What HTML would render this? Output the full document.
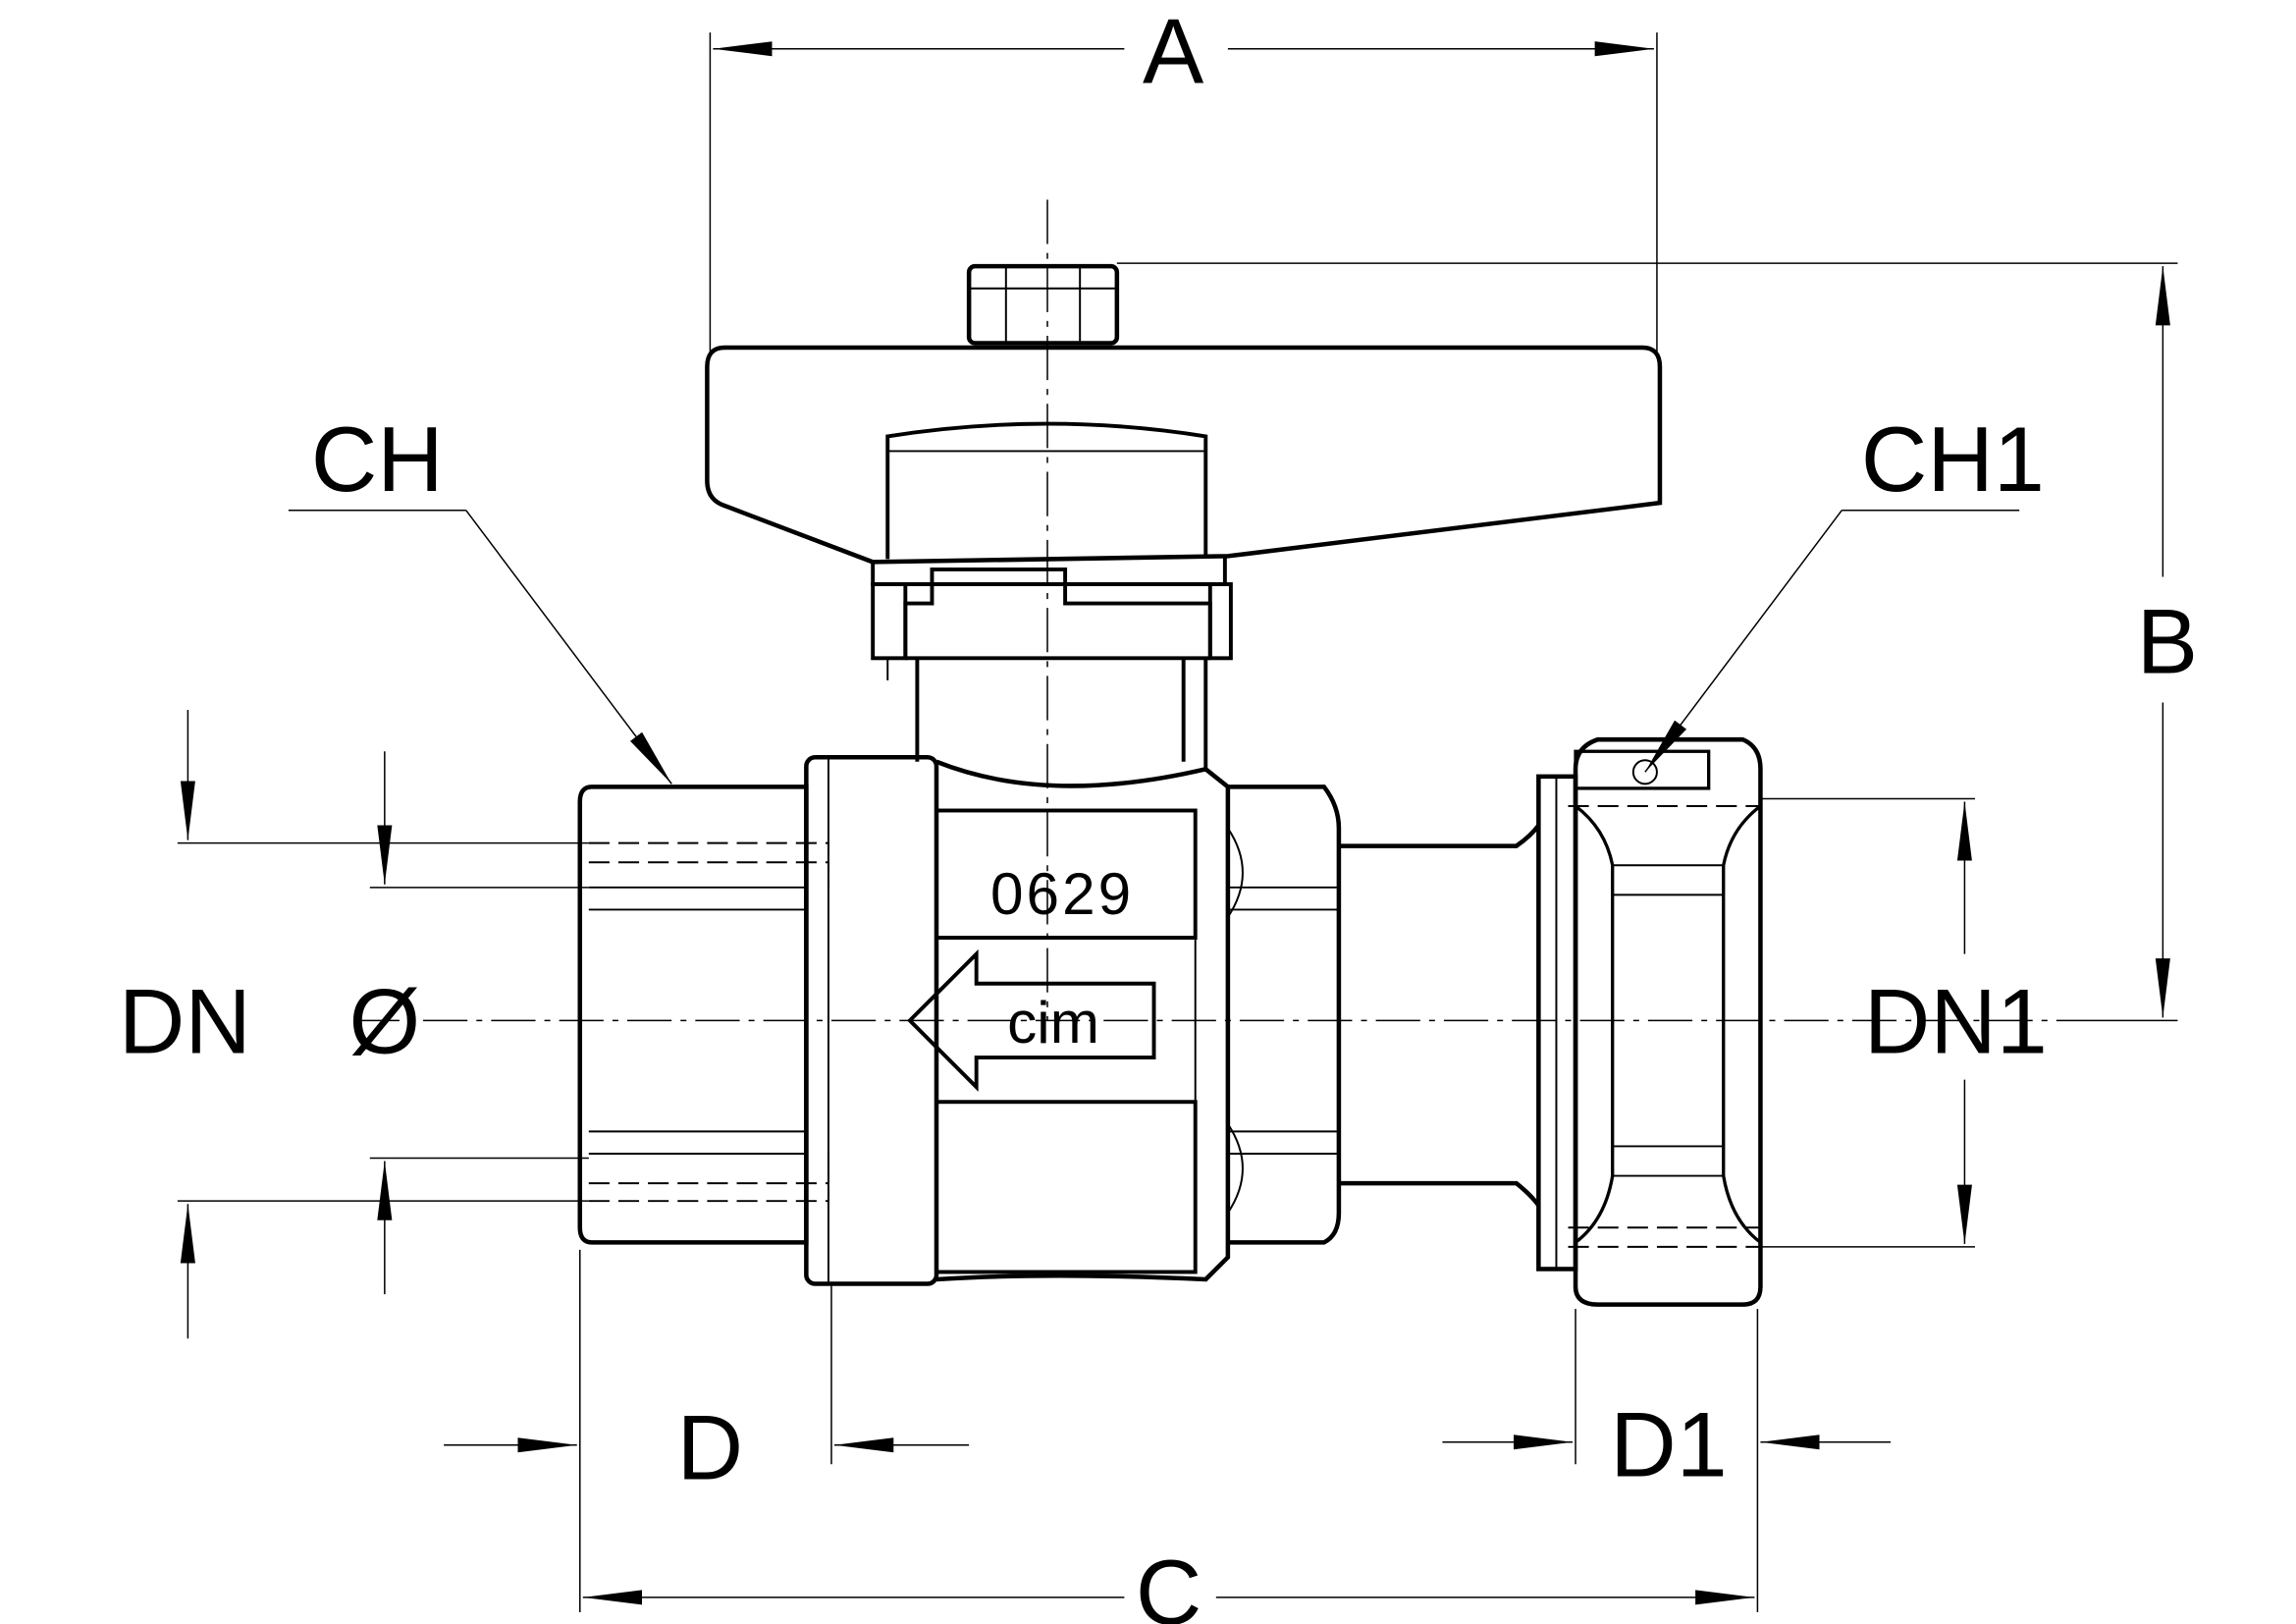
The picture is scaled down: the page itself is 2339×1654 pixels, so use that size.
<!DOCTYPE html>
<html><head><meta charset="utf-8"><style>
html,body{margin:0;padding:0;background:#fff;}
svg{display:block;}
text{font-family:"Liberation Sans",sans-serif;fill:#000;}
</style></head><body>
<svg width="2339" height="1654" viewBox="0 0 1552 1098" preserveAspectRatio="none" xmlns="http://www.w3.org/2000/svg">
<defs>
<marker id="ar" markerWidth="40" markerHeight="12" refX="40" refY="6" orient="auto" markerUnits="userSpaceOnUse">
<path d="M0,1 L40,6 L0,11 Z" fill="#000"/></marker>
</defs>
<g fill="none" stroke="#000" stroke-width="1.3">
<line x1="240" y1="690" x2="1410" y2="690" stroke-dasharray="30,6,4,6" stroke-width="1"/>
<line x1="708" y1="135" x2="708" y2="690" stroke-dasharray="30,6,4,6" stroke-width="1"/>

<line x1="480" y1="22" x2="480" y2="240" stroke-width="1"/>
<line x1="1120" y1="22" x2="1120" y2="240" stroke-width="1"/>
<line x1="760" y1="33" x2="482" y2="33" marker-end="url(#ar)" stroke-width="1"/>
<line x1="830" y1="33" x2="1118" y2="33" marker-end="url(#ar)" stroke-width="1"/>
<line x1="755" y1="178" x2="1472" y2="178" stroke-width="1"/>
<line x1="1410" y1="690" x2="1472" y2="690" stroke-width="1"/>
<line x1="1462" y1="390" x2="1462" y2="180" marker-end="url(#ar)" stroke-width="1"/>
<line x1="1462" y1="475" x2="1462" y2="688" marker-end="url(#ar)" stroke-width="1"/>

<rect x="655" y="180" width="100" height="52" rx="4" stroke-width="3"/>
<line x1="655" y1="195" x2="755" y2="195"/>
<line x1="680" y1="180" x2="680" y2="232"/><line x1="730" y1="180" x2="730" y2="232"/>
<path d="M490,235 L1110,235 Q1122,235 1122,248 L1122,340 L830,376 L590,380 L490,342 Q478,338 478,325 L478,248 Q478,235 490,235 Z" stroke-width="3"/>
<path d="M600,378 L600,295 Q708,278 815,295 L815,376" stroke-width="2.6"/>
<line x1="600" y1="305" x2="815" y2="305"/>
<path d="M590,380 L590,395 L828,395 L828,376" stroke-width="2.6"/>
<rect x="590" y="395" width="22" height="50" stroke-width="2.6"/>
<rect x="818" y="395" width="14" height="50" stroke-width="2.6"/>
<path d="M612,445 L612,408 L630,408 L630,385 L720,385 L720,408 L818,408 L818,445" stroke-width="2.6"/>
<line x1="612" y1="445" x2="818" y2="445" stroke-width="2.6"/>
<path d="M620,445 L620,515 M800,445 L800,515 M815,445 L815,520" stroke-width="2.6"/>
<line x1="600" y1="445" x2="600" y2="460"/>

<path d="M400,532 L545,532 L545,840 L400,840 Q392,840 392,830 L392,542 Q392,532 400,532 Z" stroke-width="3"/>
<line x1="398" y1="600" x2="545" y2="600"/>
<line x1="398" y1="615" x2="545" y2="615"/>
<line x1="398" y1="765" x2="545" y2="765"/>
<line x1="398" y1="780" x2="545" y2="780"/>
<line x1="398" y1="570" x2="560" y2="570" stroke-dasharray="14,6"/>
<line x1="398" y1="583" x2="560" y2="583" stroke-dasharray="14,6"/>
<line x1="398" y1="800" x2="560" y2="800" stroke-dasharray="14,6"/>
<line x1="398" y1="812" x2="560" y2="812" stroke-dasharray="14,6"/>
<line x1="560" y1="570" x2="560" y2="600" stroke-dasharray="8,4"/>
<line x1="560" y1="780" x2="560" y2="812" stroke-dasharray="8,4"/>
<rect x="545" y="512" width="88" height="356" rx="6" stroke-width="3"/>
<line x1="560" y1="512" x2="560" y2="868"/>
<path d="M633,515 Q708,545 815,520 L830,532 L830,850 L815,865 Q708,860 633,865" stroke-width="3"/>
<rect x="633" y="548" width="175" height="86" stroke-width="2.6"/>
<rect x="633" y="745" width="175" height="115" stroke-width="2.6"/>
<path d="M633,634 L633,745 M808,634 L808,745"/>
<text x="718" y="618" font-size="40" text-anchor="middle" stroke="none" letter-spacing="2">0629</text>
<path d="M615,690 L660,645 L660,665 L780,665 L780,715 L660,715 L660,735 Z" stroke-width="2.6"/>
<text x="712" y="705" font-size="40" text-anchor="middle" stroke="none">cim</text>
<path d="M830,560 Q850,590 830,620 M830,760 Q850,790 830,820"/>
<path d="M830,532 L895,532 Q905,545 905,560 L905,820 Q905,835 895,840 L830,840" stroke-width="3"/>
<line x1="830" y1="600" x2="905" y2="600"/><line x1="830" y1="615" x2="905" y2="615"/>
<line x1="830" y1="765" x2="905" y2="765"/><line x1="830" y1="780" x2="905" y2="780"/>
<path d="M905,572 L1025,572 Q1035,565 1040,558 M905,800 L1025,800 Q1035,808 1040,815" stroke-width="3"/>
<rect x="1040" y="525" width="25" height="333" stroke-width="3"/>
<line x1="1052" y1="525" x2="1052" y2="858"/>
<path d="M1080,500 L1178,500 Q1190,505 1190,520 L1190,870 Q1190,882 1178,882 L1080,882 Q1065,882 1065,870 L1065,520 Q1065,505 1080,500 Z" stroke-width="3"/>
<path d="M1065,545 Q1085,560 1090,585 L1090,795 Q1085,825 1065,840" stroke-width="2.2"/>
<path d="M1190,545 Q1170,560 1165,585 L1165,795 Q1170,825 1190,840" stroke-width="2.2"/>
<line x1="1090" y1="585" x2="1165" y2="585"/><line x1="1090" y1="605" x2="1165" y2="605"/>
<line x1="1090" y1="775" x2="1165" y2="775"/><line x1="1090" y1="795" x2="1165" y2="795"/>
<rect x="1065" y="508" width="90" height="25" stroke-width="2.2"/>
<line x1="1060" y1="545" x2="1190" y2="545" stroke-dasharray="14,6"/>
<line x1="1060" y1="830" x2="1190" y2="830" stroke-dasharray="14,6"/>
<line x1="1060" y1="843" x2="1190" y2="843" stroke-dasharray="14,6"/>
<circle cx="1112" cy="522" r="8"/>

<line x1="120" y1="570" x2="398" y2="570" stroke-width="1"/>
<line x1="120" y1="812" x2="398" y2="812" stroke-width="1"/>
<line x1="127" y1="480" x2="127" y2="568" marker-end="url(#ar)" stroke-width="1"/>
<line x1="127" y1="905" x2="127" y2="814" marker-end="url(#ar)" stroke-width="1"/>
<line x1="250" y1="600" x2="398" y2="600" stroke-width="1"/>
<line x1="250" y1="783" x2="398" y2="783" stroke-width="1"/>
<line x1="260" y1="508" x2="260" y2="598" marker-end="url(#ar)" stroke-width="1"/>
<line x1="260" y1="875" x2="260" y2="785" marker-end="url(#ar)" stroke-width="1"/>
<line x1="1190" y1="540" x2="1335" y2="540" stroke-width="1"/>
<line x1="1190" y1="843" x2="1335" y2="843" stroke-width="1"/>
<line x1="1328" y1="645" x2="1328" y2="542" marker-end="url(#ar)" stroke-width="1"/>
<line x1="1328" y1="730" x2="1328" y2="841" marker-end="url(#ar)" stroke-width="1"/>

<line x1="392" y1="845" x2="392" y2="1090" stroke-width="1"/>
<line x1="562" y1="868" x2="562" y2="990" stroke-width="1"/>
<line x1="300" y1="977" x2="390" y2="977" marker-end="url(#ar)" stroke-width="1"/>
<line x1="655" y1="977" x2="564" y2="977" marker-end="url(#ar)" stroke-width="1"/>
<line x1="1065" y1="885" x2="1065" y2="990" stroke-width="1"/>
<line x1="1188" y1="885" x2="1188" y2="1090" stroke-width="1"/>
<line x1="975" y1="975" x2="1063" y2="975" marker-end="url(#ar)" stroke-width="1"/>
<line x1="1278" y1="975" x2="1190" y2="975" marker-end="url(#ar)" stroke-width="1"/>
<line x1="760" y1="1080" x2="394" y2="1080" marker-end="url(#ar)" stroke-width="1"/>
<line x1="822" y1="1080" x2="1186" y2="1080" marker-end="url(#ar)" stroke-width="1"/>

<polyline points="195,345 315,345" stroke-width="1"/>
<line x1="315" y1="345" x2="454" y2="530" marker-end="url(#ar)" stroke-width="1"/>
<polyline points="1365,345 1245,345" stroke-width="1"/>
<line x1="1245" y1="345" x2="1112" y2="522" marker-end="url(#ar)" stroke-width="1"/>
</g>
<g stroke="none" font-size="62">
<text x="793" y="56" text-anchor="middle">A</text>
<text x="1465" y="455" text-anchor="middle">B</text>
<text x="255" y="332" text-anchor="middle">CH</text>
<text x="1320" y="332" text-anchor="middle">CH1</text>
<text x="125" y="712" text-anchor="middle">DN</text>
<text x="260" y="712" text-anchor="middle">Ø</text>
<text x="1322" y="712" text-anchor="middle">DN1</text>
<text x="480" y="1000" text-anchor="middle">D</text>
<text x="1128" y="998" text-anchor="middle">D1</text>
<text x="790" y="1098" text-anchor="middle">C</text>
</g>
</svg>
</body></html>
